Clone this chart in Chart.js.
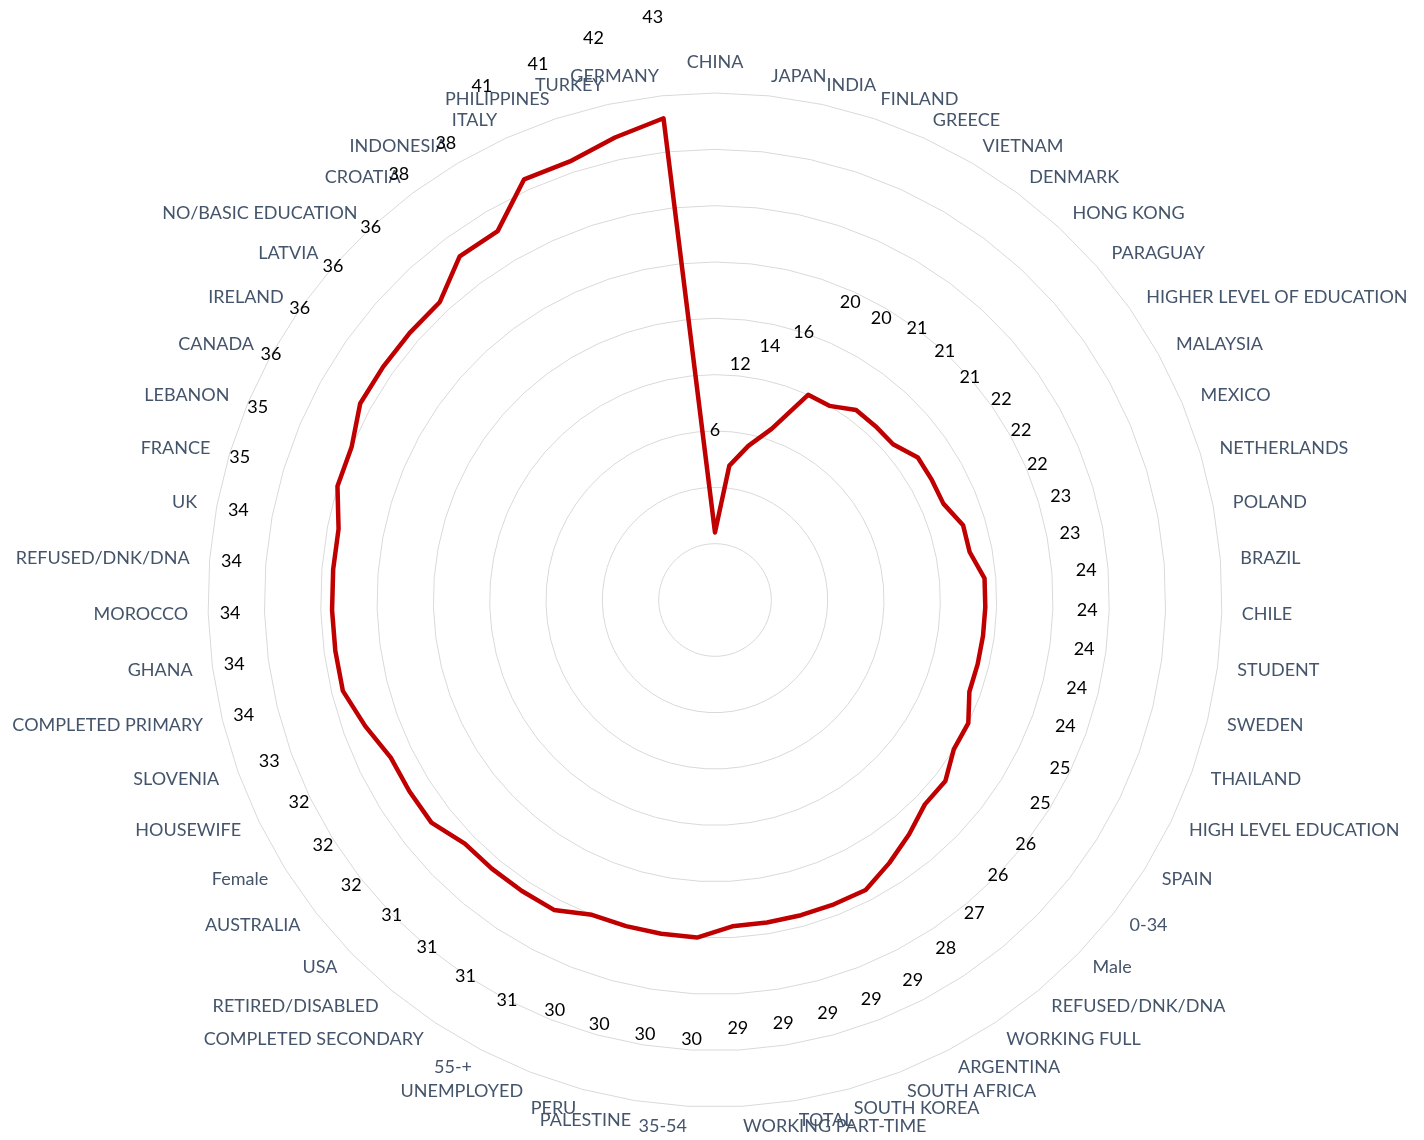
<!DOCTYPE html>
<html>
<head>
<meta charset="utf-8">
<script src="https://cdn.jsdelivr.net/npm/chart.js@4/dist/chart.umd.min.js"></script>
<style>
  html, body { margin: 0; padding: 0; background: #ffffff; }
  #radar { display: block; }
</style>
</head>
<body>
<canvas id="radar" width="1424" height="1140"></canvas>
<script>
// Categories, clockwise from the top
const categories = [
  'CHINA', 'JAPAN', 'INDIA', 'FINLAND', 'GREECE', 'VIETNAM', 'DENMARK', 'HONG KONG',
  'PARAGUAY', 'HIGHER LEVEL OF EDUCATION', 'MALAYSIA', 'MEXICO', 'NETHERLANDS', 'POLAND',
  'BRAZIL', 'CHILE', 'STUDENT', 'SWEDEN', 'THAILAND', 'HIGH LEVEL EDUCATION', 'SPAIN',
  '0-34', 'Male', 'REFUSED/DNK/DNA', 'WORKING FULL', 'ARGENTINA', 'SOUTH AFRICA',
  'SOUTH KOREA', 'TOTAL', 'WORKING PART-TIME', '35-54', 'PALESTINE', 'PERU', 'UNEMPLOYED',
  '55-+', 'COMPLETED SECONDARY', 'RETIRED/DISABLED', 'USA', 'AUSTRALIA', 'Female',
  'HOUSEWIFE', 'SLOVENIA', 'COMPLETED PRIMARY', 'GHANA', 'MOROCCO', 'REFUSED/DNK/DNA',
  'UK', 'FRANCE', 'LEBANON', 'CANADA', 'IRELAND', 'LATVIA', 'NO/BASIC EDUCATION',
  'CROATIA', 'INDONESIA', 'ITALY', 'PHILIPPINES', 'TURKEY', 'GERMANY'
];

const values = [
  6, 12, 14, 16, 20, 20, 21, 21, 21, 22, 22, 22, 23, 23, 24, 24, 24, 24, 24, 25,
  25, 26, 26, 27, 28, 29, 29, 29, 29, 29, 30, 30, 30, 30, 31, 31, 31, 31, 32, 32,
  32, 33, 34, 34, 34, 34, 34, 35, 35, 36, 36, 36, 36, 38, 38, 41, 41, 42, 43
];

const scaleMin = 0;
const scaleMax = 45;
const scaleStep = 5;

const labelFont = "Lato, 'Open Sans', sans-serif";
const labelPad = 20;

// pin the radar where the original sits
const placeRadar = {
  id: 'placeRadar',
  beforeLayout(chart) {
    const r = chart.scales.r;
    if (r && !r._pinned) {
      r._pinned = true;
      r.setCenterPoint = function() {
        this.xCenter = 715;
        this.yCenter = 600;
        this.drawingArea = 507;
      };
    }
  },
  // centre the category names vertically on their spoke (except the top one)
  afterLayout(chart) {
    const r = chart.scales.r;
    const items = r._pointLabelItems || [];
    items.forEach((item, i) => {
      if (i === 0) return;
      const h = item.bottom - item.top;
      const p = r.getPointPosition(i, r.drawingArea + labelPad);
      item.y = p.y - h / 2;
      item.top = item.y;
      item.bottom = item.y + h;
    });
  }
};

// value labels sit outside the line, like the original
const valueLabels = {
  id: 'valueLabels',
  afterDatasetsDraw(chart) {
    const ctx = chart.ctx;
    const scale = chart.scales.r;
    ctx.save();
    ctx.font = '18px ' + labelFont;
    ctx.fillStyle = '#000000';
    ctx.textAlign = 'center';
    ctx.textBaseline = 'middle';
    values.forEach((v, i) => {
      const p = scale.getPointPosition(i, scale.getDistanceFromCenterForValue(v) + 102);
      ctx.fillText(String(v), p.x, p.y);
    });
    ctx.restore();
  }
};

new Chart(document.getElementById('radar'), {
  type: 'radar',
  data: {
    labels: categories,
    datasets: [{
      data: values,
      borderColor: '#C00000',
      backgroundColor: 'transparent',
      borderWidth: 4.5,
      borderJoinStyle: 'round',
      fill: false,
      pointRadius: 0,
      pointHoverRadius: 0,
      tension: 0
    }]
  },
  options: {
    responsive: false,
    animation: false,
    plugins: {
      legend: { display: false },
      tooltip: { enabled: false }
    },
    scales: {
      r: {
        min: scaleMin,
        max: scaleMax,
        ticks: { display: false, stepSize: scaleStep },
        angleLines: { display: false },
        grid: { color: '#D9D9D9', lineWidth: 1 },
        pointLabels: {
          color: '#44546A',
          padding: labelPad,
          font: { family: labelFont, size: 18 }
        }
      }
    }
  },
  plugins: [placeRadar, valueLabels]
});
</script>
</body>
</html>
